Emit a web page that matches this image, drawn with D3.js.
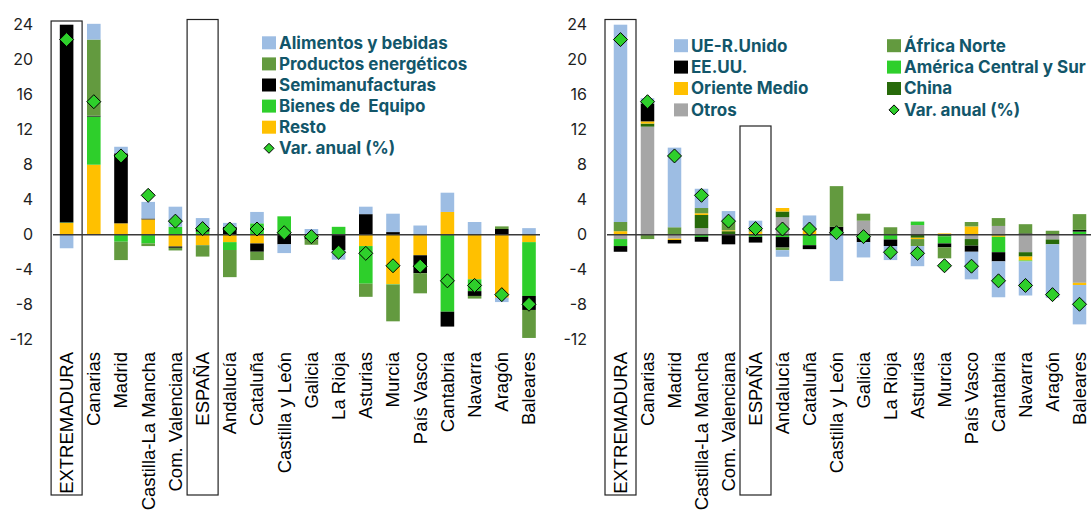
<!DOCTYPE html>
<html>
<head>
<meta charset="utf-8">
<script src="https://cdn.jsdelivr.net/npm/d3@7"></script>
<style>
  body { margin: 0; background: #fff; }
  .tick-y text { font-family: Inter, "Open Sans", sans-serif; font-size: 16px; fill: #1e1e1e; }
  .tick-x text { font-family: "Liberation Sans", Arial, sans-serif; font-size: 18.5px; fill: #000; }
  .legend text { font-family: Inter, "Open Sans", sans-serif; font-size: 17px; font-weight: 700; fill: #12566a; white-space: pre; }
</style>
</head>
<body>
<script>
const categories = ["EXTREMADURA", "Canarias", "Madrid", "Castilla-La Mancha", "Com. Valenciana", "ESPAÑA",
  "Andalucía", "Cataluña", "Castilla y León", "Galicia", "La Rioja", "Asturias", "Murcia", "País Vasco",
  "Cantabria", "Navarra", "Aragón", "Baleares"];
const tickValues = [24, 20, 16, 12, 8, 4, 0, -4, -8, -12];
const boxedCategories = ["EXTREMADURA", "ESPAÑA"];

// Var. anual (%) - same in both panels.
const varAnual = [22.3, 15.2, 9.0, 4.5, 1.55, 0.7, 0.65, 0.65, 0.23, -0.22, -2.0, -2.13, -3.55, -3.6, -5.27, -5.8, -6.85, -7.95];

// Panel 1: by product (stack order, bottom first).
const resto = [1.35, 8.0, 1.3, 1.75, -1.35, -1.2, -0.85, -1.0, 0, -0.25, 0, -1.3, -5.65, -2.35, 2.6, -5.1, -7.2, -0.85];
const bienesEquipo = [0.05, 5.5, -0.8, -1.0, 0.9, 0.35, -0.9, 1.3, 2.1, 0, 0.9, -4.3, -0.05, 0, -8.8, -1.35, 0, -6.15];
const semimanufacturas = [22.6, 0.1, 8.0, 0.1, -0.15, 0.35, 0.9, -0.95, -1.1, -0.3, -1.75, 2.35, 0.3, -2.05, -1.7, -0.55, 0.65, -1.6];
const productosEnergeticos = [0, 8.7, -2.1, -0.3, -0.3, -1.3, -3.1, -0.95, 0, -0.6, 0, -1.5, -4.2, -2.3, 0, -0.3, 0.3, -3.2];
const alimentosBebidas = [-1.55, 1.8, 0.75, 1.9, 2.3, 1.2, 0.45, 1.3, -1.0, 0.65, -1.1, 0.85, 2.1, 1.05, 2.2, 1.45, -0.5, 0.75];

// Panel 2: by destination (stack order, bottom first).
const otros = [-0.5, 12.35, -0.45, 0.75, 0, 0, 2.0, 0, 0, 1.6, 0, 1.1, 0, -0.5, 1.0, -2.0, -0.55, -5.5];
const china = [0, 0.35, 0, 1.5, 0.4, 0.1, 0.65, 0, 0, 0, 0, -0.35, -0.2, -0.75, -0.1, -0.5, -0.55, 0];
const orienteMedio = [0.4, 0.25, -0.15, 0.2, 0.1, 0.25, 0.4, 0.5, 0, 0, 0, -0.15, 0.15, 0.95, -0.15, -0.45, 0, -0.25];
const americaCentralSur = [-0.8, 0, 0, -0.25, 0, -0.25, -0.27, -1.2, 0, -0.3, -0.55, 0.4, -0.8, 0, -1.75, -0.1, 0, 0.35];
const eeuu = [-0.65, 2.05, -0.4, -0.55, -1.1, -0.65, -1.2, -0.45, 0.9, -0.55, -0.75, 0, -0.45, -0.7, -1.05, 0.15, 0, 0.2];
const africaNorte = [1.05, -0.5, 0.85, 0.6, 1.05, 0.2, -0.3, 0, 4.65, 0.8, 0.85, -0.8, -1.25, 0.5, 0.9, 1.05, 0.45, 1.8];
const ueRUnido = [22.55, 0.6, 9.1, 2.2, 1.15, 1.05, -0.75, 1.7, -5.3, -1.75, -1.6, -2.3, 0, -3.15, -4.1, -3.9, -6.1, -4.5];

const C = {
  blue: "#9dbde3", olive: "#639a3f", black: "#000000", green: "#2ecf2b",
  orange: "#ffc000", gray: "#a6a6a6", darkGreen: "#276a0a"
};

const width = 1091;
const height = 513;

const svg = d3.select("body").append("svg")
  .attr("width", width)
  .attr("height", height);

const y = d3.scaleLinear().domain([-12, 24]).range([339.7, 24.7]);

const diamond = r => `M0,${-r}L${r},0L0,${r}L${-r},0Z`;

function drawPanel(p) {
  const g = svg.append("g");

  const x = d3.scaleBand()
    .domain(categories)
    .range(p.xRange)
    .paddingInner(0.5)
    .paddingOuter(0.25);

  const rows = categories.map((c, i) => {
    const row = { cat: c };
    p.series.forEach(s => { row[s.name] = s.values[i]; });
    return row;
  });

  const stacked = d3.stack()
    .keys(p.series.map(s => s.name))
    .offset(d3.stackOffsetDiverging)(rows);

  // recuadros EXTREMADURA / ESPAÑA.
  g.selectAll(".box")
    .data(boxedCategories)
    .enter()
    .append("rect")
    .attr("x", d => x(d) + x.bandwidth() / 2 - 15.5)
    .attr("y", (d, i) => p.boxTop[i])
    .attr("width", 31)
    .attr("height", (d, i) => 495 - p.boxTop[i])
    .attr("fill", "none")
    .attr("stroke", "#222")
    .attr("stroke-width", 1.2);

  // y axis labels.
  g.append("g")
    .attr("class", "tick-y")
    .attr("transform", `translate(${p.xRange[0]},0)`)
    .call(d3.axisLeft(y).tickValues(tickValues).tickSize(0).tickPadding(20).tickFormat(d => String(d)))
    .call(a => a.select(".domain").remove());

  // barras apiladas.
  g.selectAll(".serie")
    .data(stacked)
    .enter()
    .append("g")
    .attr("fill", (d, i) => p.series[i].color)
    .selectAll("rect")
    .data(d => d)
    .enter()
    .append("rect")
    .attr("x", d => x(d.data.cat))
    .attr("y", d => y(Math.max(d[0], d[1])))
    .attr("width", x.bandwidth())
    .attr("height", d => Math.abs(y(d[0]) - y(d[1])));

  // línea de cero.
  g.append("line")
    .attr("x1", p.xRange[0])
    .attr("x2", p.zeroEnd)
    .attr("y1", y(0))
    .attr("y2", y(0))
    .attr("stroke", "#3a3a3a")
    .attr("stroke-width", 1.5);

  // Var. anual.
  g.selectAll(".var")
    .data(varAnual)
    .enter()
    .append("path")
    .attr("d", diamond(7))
    .attr("transform", (d, i) => `translate(${x(categories[i]) + x.bandwidth() / 2},${y(d)})`)
    .attr("fill", C.green)
    .attr("stroke", "#000")
    .attr("stroke-width", 1);

  // categorías.
  g.append("g")
    .attr("class", "tick-x")
    .attr("transform", "translate(0,352)")
    .call(d3.axisBottom(x).tickSize(0))
    .call(a => a.select(".domain").remove())
    .selectAll("text")
    .attr("transform", "rotate(-90)")
    .attr("x", 0)
    .attr("y", 0)
    .attr("dy", "0.35em")
    .style("text-anchor", "end");

  // leyenda.
  const leg = g.append("g").attr("class", "legend");
  const items = p.legend.map((name, i) => ({
    name,
    col: Math.floor(i / p.legendRows),
    row: i % p.legendRows
  }));
  items.forEach(it => {
    const lx = p.legendX[it.col];
    const ly = p.legendY + it.row * p.legendStep;
    if (it.name === "Var. anual (%)") {
      leg.append("path")
        .attr("d", diamond(5))
        .attr("transform", `translate(${lx + 7},${ly})`)
        .attr("fill", C.green)
        .attr("stroke", "#000")
        .attr("stroke-width", 1);
    } else {
      const s = p.series.find(d => d.name === it.name);
      leg.append("rect")
        .attr("x", lx)
        .attr("y", ly - 6.5)
        .attr("width", 14)
        .attr("height", 13)
        .attr("fill", s.color);
    }
    leg.append("text")
      .attr("x", lx + 17)
      .attr("y", ly)
      .attr("dy", "0.35em")
      .text(it.name);
  });
}

drawPanel({
  xRange: [53, 542.6],
  zeroEnd: 540,
  boxTop: [21, 19.5],
  series: [
    { name: "Resto", values: resto, color: C.orange },
    { name: "Bienes de  Equipo", values: bienesEquipo, color: C.green },
    { name: "Semimanufacturas", values: semimanufacturas, color: C.black },
    { name: "Productos energéticos", values: productosEnergeticos, color: C.olive },
    { name: "Alimentos y bebidas", values: alimentosBebidas, color: C.blue }
  ],
  legend: ["Alimentos y bebidas", "Productos energéticos", "Semimanufacturas", "Bienes de  Equipo", "Resto", "Var. anual (%)"],
  legendRows: 6,
  legendX: [262],
  legendY: 42.8,
  legendStep: 21.1
});

drawPanel({
  xRange: [607, 1093],
  zeroEnd: 1091,
  boxTop: [19.5, 126],
  series: [
    { name: "Otros", values: otros, color: C.gray },
    { name: "China", values: china, color: C.darkGreen },
    { name: "Oriente Medio", values: orienteMedio, color: C.orange },
    { name: "América Central y Sur", values: americaCentralSur, color: C.green },
    { name: "EE.UU.", values: eeuu, color: C.black },
    { name: "África Norte", values: africaNorte, color: C.olive },
    { name: "UE-R.Unido", values: ueRUnido, color: C.blue }
  ],
  legend: ["UE-R.Unido", "EE.UU.", "Oriente Medio", "Otros", "África Norte", "América Central y Sur", "China", "Var. anual (%)"],
  legendRows: 4,
  legendX: [674, 887],
  legendY: 45.7,
  legendStep: 21.4
});
</script>
</body>
</html>
